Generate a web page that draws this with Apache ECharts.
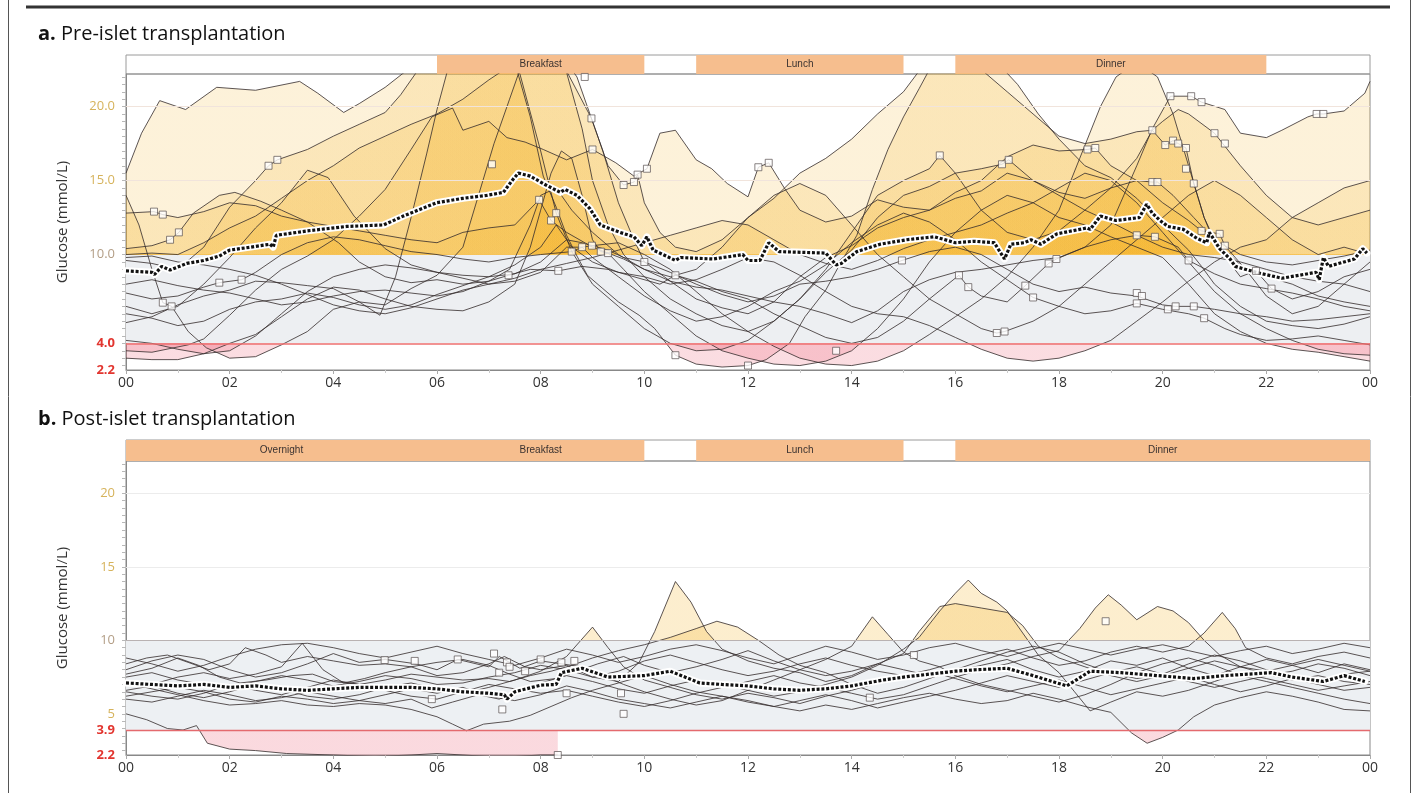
<!DOCTYPE html>
<html><head><meta charset="utf-8">
<script src="https://cdn.jsdelivr.net/npm/echarts@6/dist/echarts.min.js"></script>
<style>html,body{margin:0;padding:0;background:#fff}#c{width:1417px;height:793px}</style>
</head><body><div id="c"></div>
<script>
// ---------- tick labels ----------
const xTickLabels = ['00','02','04','06','08','10','12','14','16','18','20','22','00'];
const yTicksA = [2.2, 4, 10, 15, 20];
const yTickLabelsA = ['2.2','4.0','10.0','15.0','20.0'];
const yTicksB = [2.2, 3.9, 5, 10, 15, 20];
const yTickLabelsB = ['2.2','3.9','5','10','15','20'];
const yMinorTicks = [2.5,3,3.5,4,4.5,5,5.5,6,6.5,7,7.5,8,8.5,9,9.5,10,10.5,11,11.5,12,12.5,13,13.5,14,14.5,15,15.5,16,16.5,17,17.5,18,18.5,19,19.5,20,20.5,21,21.5,22];

// ---------- meal periods [start h, end h, name] ----------
const mealsA = [[6,10,'Breakfast'],[11,15,'Lunch'],[16,22,'Dinner']];
const mealsB = [[0,6,'Overnight'],[6,10,'Breakfast'],[11,15,'Lunch'],[16,24,'Dinner']];

// ---------- a. Pre-islet transplantation: daily traces [hour, mmol/L] ----------
const preTrace01 = [[0,15.5],[0.3,18.2],[0.65,20.4],[1.15,19.8],[1.75,21.3],[2.5,21.1],[3.35,21.7],[3.7,20.9],[4.2,19.6],[4.5,20.2],[5,21.3],[5.4,22.4],[6,23.2],[7,23.5],[8,23],[8.5,22.4],[8.98,19.2],[9.2,17],[9.5,13.5],[9.8,11],[10,9.5],[10.5,8.2],[11,7.8],[11.5,7.6],[12,7.2],[12.5,6.8],[13,6.5],[13.5,6],[14,5.4],[14.5,6.2],[15,7.5],[15.5,8.3],[16,8.8],[16.5,9],[17,9.3],[17.5,9.6],[18,9.8],[18.5,10.5],[19,12],[19.5,16],[19.8,18.5],[20.15,20.7],[20.55,20.7],[20.75,20.3],[21.2,19.8],[21.5,18.2],[22,17.9],[22.3,18.4],[22.8,19.3],[22.97,19.5],[23.1,19.5],[23.5,19.7],[23.9,20.9],[24,21.7]];
const preTrace02 = [[0,9.6],[0.5,9.4],[1,9.0],[1.5,10.5],[2,13.2],[2.5,15.0],[2.75,16.0],[2.92,16.4],[3.5,17.1],[4,18.0],[4.5,18.8],[5,19.6],[5.3,20.8],[5.6,22.3],[6.5,23.5],[7.5,23],[7.8,19.3],[8.05,15.3],[8.3,13.2],[8.5,11.3],[8.7,9.9],[8.9,8.6],[9.2,7.7],[9.5,6.8],[9.9,5.9],[10.2,5.0],[10.6,3.2],[11,2.6],[11.5,2.4],[12,2.5],[12.35,2.9],[12.8,4.0],[13.1,5.8],[13.5,7.6],[13.75,9.2],[14.1,11.3],[14.4,14.4],[14.7,17.1],[15,19.3],[15.3,21.2],[15.5,22.5],[16,23.5],[16.8,23],[17.2,21.5],[17.6,19.5],[18,17.8],[18.5,16.0],[19,15.2],[19.5,13.8],[20,12.0],[20.5,10.3],[20.75,9.2],[21,8.0],[21.5,6.5],[22,5.5],[22.5,5.2],[23,5.0],[23.5,5.3],[24,5.8]];
const preTrace03 = [[0,12.8],[0.54,12.9],[0.71,12.7],[1,12.5],[1.5,12.9],[2,13.5],[2.5,13.3],[3,12.6],[3.5,12.2],[4,11.9],[4.5,11.6],[5,11.3],[5.5,11.0],[6,10.8],[6.5,11.5],[7,11.8],[7.5,12.0],[7.97,13.7],[8.2,12.3],[8.5,11.5],[9,10.5],[9.3,10.1],[9.6,9.7],[10,9.0],[10.5,8.2],[11,7.0],[11.5,6.4],[12,6.0],[12.5,6.8],[13,8.5],[13.5,9.8],[14,10.6],[14.5,11.8],[15,12.5],[15.5,13.0],[16,13.8],[16.5,14.3],[17,15.5],[17.5,15.0],[18,14.2],[18.5,13.8],[19,14.5],[19.5,15.0],[19.8,14.9],[19.9,14.9],[20.2,14.0],[20.6,12.5],[21,11.0],[21.5,10.0],[22,9.5],[22.5,9.3],[23,9.6],[23.5,9.9],[24,10.3]];
const preTrace04 = [[0,10.4],[0.5,10.6],[0.85,11.0],[1.02,11.5],[1.3,12.8],[1.8,14.0],[2.1,14.2],[2.6,13.6],[3,13.0],[3.5,12.2],[4.1,10.8],[4.5,9.5],[5,8.5],[5.5,8.1],[6,8.3],[6.5,8.0],[7,8.2],[7.38,8.6],[7.8,9.0],[8.34,8.9],[8.8,9.2],[9.3,9.0],[9.8,8.5],[10.3,8.0],[10.6,8.6],[11,8.2],[11.5,7.5],[12,7.0],[12.5,6.0],[13,5.2],[13.5,4.4],[14,4.0],[14.5,4.4],[15,5.5],[15.5,7.0],[16.07,8.6],[16.25,7.8],[16.5,7.2],[17,6.8],[17.35,7.9],[17.8,9.4],[17.95,9.7],[18.5,10.5],[19,11.0],[19.5,11.3],[19.85,11.2],[20.3,10.5],[20.5,9.6],[21,8.7],[21.5,8.0],[22,7.7],[22.5,7.4],[23,7.0],[23.5,6.5],[24,6.2]];
const preTrace05 = [[0,14.0],[0.25,12.0],[0.5,9.0],[0.71,6.75],[0.88,6.5],[1.2,4.8],[1.55,3.7],[2,3.0],[2.5,3.1],[3,3.9],[3.5,4.8],[4,6.3],[4.5,6.8],[5,6.6],[5.5,7.7],[6,8.6],[6.5,10.5],[6.8,14.0],[7.1,17.5],[7.4,20.5],[7.6,22.5],[8.2,23],[8.5,22.3],[8.8,18.5],[9.0,15.0],[9.3,12.0],[9.6,10.0],[10,8.5],[10.5,7.0],[11,6.0],[11.5,5.2],[12,4.8],[12.5,5.5],[13,7.0],[13.5,8.8],[14,10.3],[14.5,12.5],[15,14.0],[15.5,14.6],[16,15.5],[16.5,15.8],[16.9,16.1],[17.03,16.4],[17.5,15.0],[18,14.0],[18.5,13.0],[19,12.2],[19.5,11.3],[20,10.5],[20.5,10.0],[21,9.8],[21.5,9.5],[22,9.0],[22.5,8.5],[23,8.2],[23.5,8.0],[24,7.5]];
const preTrace06 = [[0,3.5],[0.5,3.4],[1.2,3.9],[1.5,4.3],[2,5.9],[2.5,7.6],[3,9.0],[3.5,9.9],[4,11.0],[4.5,12.6],[5,14.4],[5.5,17.1],[5.9,19.3],[6.3,19.9],[6.5,18.4],[7,19.0],[7.35,17.9],[7.7,17.6],[8.05,17.1],[8.5,16.4],[9.0,17.1],[9.45,16.2],[9.8,15.3],[10.05,15.8],[10.3,18.2],[10.6,18.4],[11,16.4],[11.3,15.8],[11.6,14.8],[12,13.9],[12.2,15.9],[12.4,16.2],[12.7,14.5],[13,13.0],[13.5,12.2],[14,12.6],[14.5,13.7],[15,13.2],[15.5,13.0],[16,14.2],[16.5,15.0],[17,16.6],[17.5,17.4],[18,17.0],[18.55,17.1],[18.7,17.2],[19,16.0],[19.5,15.0],[20,13.5],[20.5,12.3],[20.75,11.6],[21.1,11.4],[21.2,10.6],[21.6,9.0],[22,7.2],[22.5,6.0],[23,6.5],[23.5,8.0],[24,9.5]];
const preTrace07 = [[0,3.0],[0.5,2.9],[1,2.9],[1.5,3.3],[2,4.0],[2.5,4.6],[3,5.8],[3.5,7.0],[4,7.8],[4.5,7.6],[5,7.0],[5.5,6.5],[6,6.3],[6.5,6.2],[7,6.8],[7.5,8.0],[7.8,10.5],[8,13.0],[8.2,15.5],[8.4,17.0],[8.6,16.5],[8.8,14.0],[9.0,11.0],[9.16,10.2],[9.3,10.1],[9.6,9.0],[10,7.5],[10.5,6.0],[11,4.5],[11.5,3.5],[12,3.0],[12.5,2.6],[13,2.5],[13.5,2.8],[14,3.5],[14.5,5.0],[15,7.0],[15.5,9.5],[16,11.5],[16.5,13.0],[17,14.0],[17.5,13.5],[18,12.5],[18.5,12.0],[19,11.2],[19.5,10.5],[20,9.8],[20.5,8.0],[21,6.0],[21.5,4.8],[22,4.0],[22.5,3.6],[23,3.4],[23.5,3.1],[24,2.8]];
const preTrace08 = [[0,7.4],[0.5,7.0],[1,7.2],[1.5,7.8],[1.8,8.1],[2.23,8.3],[2.5,8.8],[3,10.0],[3.5,10.8],[4,11.2],[4.5,11.0],[5,10.6],[5.5,10.2],[6,10.0],[6.5,9.7],[7,9.5],[7.5,9.8],[8,10.0],[8.6,10.2],[8.8,10.5],[9,10.6],[9.3,10.3],[9.6,9.8],[10,9.5],[10.5,8.8],[11,8.0],[11.5,7.3],[12,6.8],[12.5,7.2],[13,8.0],[13.5,8.2],[14,8.5],[14.5,9.0],[14.97,9.6],[15.5,10.2],[16,10.5],[16.5,10.0],[17,9.0],[17.5,8.0],[18,7.5],[18.5,7.8],[19,7.4],[19.5,7.2],[20,6.6],[20.25,6.5],[20.6,6.5],[21,6.3],[21.5,6.0],[22,5.8],[22.5,5.5],[23,5.6],[23.5,5.8],[24,6.0]];
const preTrace09 = [[0,6.5],[0.5,6.0],[1,6.5],[1.5,8.0],[2,9.8],[2.5,11.8],[3,13.5],[3.5,15.7],[3.9,15.2],[4.4,12.6],[5,10.4],[5.5,9.3],[6,8.8],[6.5,8.4],[7,8.0],[7.5,8.2],[8,8.8],[8.5,10.5],[8.8,10.5],[9,9.8],[9.5,8.5],[10,7.2],[10.5,6.2],[11,5.5],[11.5,5.8],[12,6.5],[12.5,7.5],[13,8.2],[13.5,9.3],[14,10.8],[14.5,12.0],[15,12.8],[15.5,12.2],[16,11.0],[16.5,9.5],[17,8.3],[17.5,7.1],[18,6.5],[18.5,6.0],[19,6.2],[19.5,6.7],[20,6.3],[20.5,6.0],[20.8,5.7],[21.2,5.0],[21.5,4.6],[22,4.2],[22.5,4.3],[23,4.5],[23.5,4.2],[24,3.9]];
const preTrace10 = [[0,5.4],[0.5,5.8],[1,6.6],[1.5,7.2],[2,7.6],[2.5,8.2],[3,8.1],[3.5,7.9],[4,7.7],[4.5,6.8],[4.9,5.9],[5.2,8.5],[5.5,12.5],[5.8,16.8],[6,19.8],[6.2,22.4],[7,23.5],[7.5,23],[7.6,22.2],[8.0,17.0],[8.3,12.8],[8.6,10.2],[9,8.0],[9.5,6.5],[10,5.0],[10.5,4.0],[11,3.5],[11.5,3.6],[12,4.2],[12.5,5.5],[13,7.0],[13.5,9.0],[14,11.5],[14.5,14.0],[15,15.0],[15.5,15.8],[15.7,16.7],[16,15.5],[16.5,13.0],[17,11.5],[17.5,11.0],[18,11.6],[18.5,13.0],[19,14.5],[19.5,16.5],[19.8,18.4],[20.05,17.4],[20.2,17.7],[20.3,17.5],[20.45,17.2],[20.6,14.8],[20.8,12.5],[21,10.8],[21.5,8.5],[21.8,8.9],[22.1,7.7],[22.5,7.0],[23,7.5],[23.5,8.5],[24,9.0]];
const preTrace11 = [[0,8.0],[0.5,8.3],[1,7.9],[1.5,7.6],[2,7.4],[2.5,7.0],[3,6.6],[3.5,6.8],[4,7.2],[4.5,7.5],[5,7.6],[5.5,7.4],[6,7.2],[6.5,7.5],[7,8.2],[7.4,9.0],[7.8,12.0],[8.0,14.0],[8.3,14.5],[8.6,13.0],[9,11.5],[9.5,10.0],[10,9.0],[10.5,8.5],[11,9.0],[11.5,10.5],[12,12.5],[12.5,14.0],[13,14.8],[13.5,14.0],[14,12.0],[14.5,10.0],[15,8.5],[15.5,7.0],[16,6.0],[16.5,5.0],[16.8,4.7],[16.95,4.8],[17.5,5.5],[18,6.5],[18.5,8.0],[19,9.5],[19.5,11.0],[20,12.5],[20.5,14.0],[21,15.0],[21.5,14.0],[22,12.5],[22.5,11.0],[23,10.0],[23.5,10.5],[24,10.0]];
const preTrace12 = [[0,10.0],[0.5,10.1],[1,10.0],[1.5,10.8],[2,11.8],[2.5,12.6],[3,13.8],[3.5,15.0],[4,16.0],[4.5,17.2],[5,18.0],[5.5,18.8],[6,19.5],[6.5,20.5],[7,21.8],[7.3,22.5],[8,23.5],[8.5,23],[8.7,22],[9.0,19.0],[9.3,16.0],[9.6,14.7],[9.8,14.9],[9.87,15.4],[10,13.5],[10.3,11.5],[10.6,10.5],[11,10.2],[11.5,11.0],[12,12.5],[12.5,13.8],[13,15.5],[13.5,16.5],[14,17.8],[14.5,19.5],[15,21.0],[15.3,22.4],[16,23],[16.5,22.5],[17,21.0],[17.5,19.5],[18,18.0],[18.5,17.5],[19,17.8],[19.5,18.3],[19.8,18.4],[20,19.0],[20.3,19.8],[20.5,19.5],[21,18.2],[21.5,16.0],[22,14.0],[22.5,12.5],[23,12.0],[23.5,12.5],[24,13.0]];
const preTrace13 = [[0,4.2],[0.5,4.0],[1,3.6],[1.5,3.3],[2,3.5],[2.5,4.5],[3,6.0],[3.5,7.5],[4,8.5],[4.5,9.0],[5,9.3],[5.5,9.1],[6,8.8],[6.5,8.6],[7,8.5],[7.5,8.7],[8,9.5],[8.5,11.0],[8.8,10.8],[9.0,10.6],[9.5,10.8],[10,10.0],[10.5,9.0],[11,7.5],[11.5,6.0],[12,4.8],[12.5,3.8],[13,3.0],[13.5,2.6],[14,2.5],[14.5,2.8],[15,3.5],[15.5,4.6],[16,5.8],[16.5,7.0],[17,8.5],[17.5,10.5],[18,13.0],[18.4,16.5],[18.8,20.0],[19.1,22.0],[19.5,23],[19.9,22.0],[20.2,19.5],[20.5,16.0],[20.8,12.5],[21,11.0],[21.5,9.3],[22,8.5],[22.5,8.0],[23,7.2],[23.5,6.8],[24,6.5]];
const preTrace14 = [[0,6.0],[0.5,5.7],[1,5.2],[1.5,5.5],[2,6.3],[2.5,6.8],[3,7.0],[3.5,7.4],[4,7.1],[4.5,6.6],[5,6.3],[5.5,6.6],[6,7.3],[6.5,7.9],[7,8.5],[7.5,9.3],[8,10.5],[8.3,12.0],[8.6,10.5],[9,9.5],[9.5,8.8],[10,8.5],[10.5,8.0],[11,8.3],[11.5,9.0],[12,9.8],[12.5,9.5],[13,8.6],[13.5,7.5],[14,6.5],[14.5,6.0],[15,5.8],[15.5,5.2],[16,4.4],[16.5,3.6],[17,3.0],[17.5,2.8],[18,3.0],[18.5,3.5],[19,4.2],[19.5,5.5],[20,6.8],[20.5,8.2],[21,9.5],[21.5,10.5],[22,11.0],[22.5,12.5],[23,13.5],[23.5,14.5],[24,15.0]];
const preTrace15 = [[0,9.8],[0.5,9.9],[1,9.5],[1.5,9.3],[2,9.0],[2.5,8.6],[3,8.0],[3.5,7.3],[4,6.6],[4.5,6.2],[5,6.0],[5.5,6.4],[6,7.0],[6.5,7.6],[7,8.0],[7.5,8.4],[8,9.0],[8.5,9.4],[9,9.8],[9.5,10.3],[10,10.8],[10.5,11.3],[11,11.8],[11.5,12.3],[12,12.0],[12.5,11.0],[13,10.0],[13.5,9.4],[14,9.0],[14.5,9.6],[15,10.4],[15.5,11.0],[16,11.5],[16.5,12.0],[17,12.8],[17.5,13.5],[18,14.5],[18.5,15.5],[19,15.0],[19.5,13.5],[20,11.5],[20.5,9.5],[21,7.5],[21.5,6.0],[22,5.0],[22.5,4.2],[23,3.6],[23.5,3.3],[24,3.2]];
const preTraces = [preTrace01,preTrace02,preTrace03,preTrace04,preTrace05,preTrace06,preTrace07,preTrace08,preTrace09,preTrace10,preTrace11,preTrace12,preTrace13,preTrace14,preTrace15];

const preMedian = [[0,8.9],[0.5,8.8],[0.55,8.65],[0.69,9.2],[0.85,8.95],[1.17,9.4],[1.5,9.6],[1.8,9.9],[2.0,10.3],[2.4,10.5],[2.78,10.7],[2.84,10.5],[2.9,11.3],[3.5,11.6],[4.26,11.9],[4.97,12.0],[5.35,12.6],[5.99,13.5],[6.5,13.8],[6.96,14.0],[7.28,14.2],[7.47,15.1],[7.57,15.5],[7.8,15.3],[8.1,14.7],[8.38,14.2],[8.47,14.4],[8.7,14.0],[8.95,13.1],[9.15,12.0],[9.53,11.5],[9.8,11.2],[9.95,10.6],[10.05,11.2],[10.17,10.3],[10.36,10.0],[10.6,9.6],[10.7,9.8],[11.33,9.7],[11.9,10.0],[12,9.6],[12.23,9.6],[12.4,10.8],[12.6,10.2],[13.5,10.1],[13.7,9.3],[13.8,9.4],[14.1,10.2],[14.55,10.7],[15.06,11.0],[15.6,11.2],[16,10.8],[16.36,10.9],[16.75,10.8],[16.95,9.7],[17.07,10.7],[17.33,10.8],[17.46,11.0],[17.65,10.7],[17.96,11.4],[18.54,11.8],[18.6,11.7],[18.8,12.6],[19.1,12.3],[19.55,12.5],[19.69,13.4],[19.8,12.8],[19.95,12.3],[20.1,11.9],[20.4,11.7],[20.66,11.1],[20.85,10.8],[20.9,11.5],[21.1,10.4],[21.3,9.7],[21.4,9.2],[21.8,8.8],[22.3,8.4],[22.96,8.8],[23.02,8.3],[23.1,9.8],[23.2,9.2],[23.7,9.7],[23.86,10.4],[23.94,10.1]];

const preMarkers = [[0.54,12.9],[0.71,12.7],[0.85,11.0],[1.02,11.5],[0.71,6.75],[0.88,6.5],[1.8,8.1],[2.23,8.3],[2.75,16.0],[2.92,16.4],[7.06,16.1],[7.97,13.7],[8.2,12.3],[8.3,12.8],[8.6,10.2],[8.8,10.5],[8.99,10.6],[9.16,10.2],[9.3,10.1],[8.98,19.2],[9.0,17.1],[8.85,22.0],[9.6,14.7],[9.8,14.9],[9.87,15.4],[10.05,15.8],[10.0,9.5],[10.6,8.6],[10.6,3.2],[12.0,2.5],[7.38,8.6],[8.34,8.9],[12.2,15.9],[12.4,16.2],[13.7,3.5],[14.97,9.6],[15.7,16.7],[16.07,8.6],[16.25,7.8],[16.9,16.1],[17.03,16.4],[16.8,4.7],[16.95,4.8],[17.35,7.9],[17.5,7.1],[17.8,9.4],[17.95,9.7],[20.15,20.7],[20.55,20.7],[20.75,20.3],[22.97,19.5],[23.1,19.5],[19.8,18.4],[20.05,17.4],[20.2,17.7],[20.3,17.5],[20.45,17.2],[21.0,18.2],[21.2,17.5],[18.55,17.1],[18.7,17.2],[20.45,15.8],[20.6,14.8],[19.8,14.9],[19.9,14.9],[20.75,11.6],[21.1,11.4],[21.2,10.6],[19.5,11.3],[19.85,11.2],[20.5,9.6],[19.5,7.4],[19.6,7.2],[19.5,6.7],[20.1,6.3],[20.25,6.5],[20.6,6.5],[20.8,5.7],[21.8,8.9],[22.1,7.7]];

// ---------- b. Post-islet transplantation ----------
const postTrace01 = [[0,5.0],[0.4,4.6],[0.8,4.0],[1.1,3.9],[1.36,4.2],[1.57,3.0],[2,2.6],[2.5,2.5],[3.1,2.3],[4,2.2],[4.8,2.1],[5.5,2.2],[6,2.3],[6.5,2.2],[7,2.1],[7.5,2.1],[8,2.2],[8.33,2.2]];
const postTrace02 = [[0,8.4],[0.4,8.8],[0.8,9.0],[1.2,8.5],[1.6,8.0],[2,8.4],[2.3,9.5],[2.7,9.0],[3,8.5],[3.5,8.9],[4,8.6],[4.5,8.3],[5,8.4],[5.5,8.2],[6,7.6],[6.5,7.8],[7,8.4],[7.3,8.9],[7.7,8.2],[8,8.0],[8.5,8.3],[9,7.5],[9.5,7.2],[9.9,8.5],[10.2,10.6],[10.6,14.0],[10.9,12.6],[11.2,10.6],[11.5,9.4],[12,8.6],[12.5,8.1],[13,7.8],[13.5,7.2],[14,7.6],[14.5,8.4],[15,8.0],[15.5,7.6],[16,7.9],[16.5,8.3],[17,8.7],[17.5,8.0],[18,7.5],[18.5,7.9],[19,8.6],[19.5,8.3],[20,8.8],[20.5,8.1],[21,7.6],[21.5,8.2],[22,8.7],[22.5,8.3],[23,7.8],[23.5,8.4],[24,8.0]];
const postTrace03 = [[0,7.7],[0.5,8.1],[1,8.8],[1.4,8.3],[1.8,7.5],[2.2,7.1],[2.7,7.3],[3.2,7.6],[3.6,7.7],[4,7.2],[4.5,7.0],[5,7.3],[5.5,7.7],[6,7.5],[6.5,7.3],[7,7.4],[7.4,7.2],[7.8,7.6],[8.2,7.9],[8.6,8.3],[9,8.8],[9.5,9.3],[10,9.7],[10.5,10.2],[11,10.8],[11.4,11.3],[11.8,10.9],[12.2,10.0],[12.6,9.0],[13,8.3],[13.5,7.8],[14,7.0],[14.5,6.4],[15,6.8],[15.5,7.4],[16,8.0],[16.5,8.6],[17,9.2],[17.5,9.6],[18,9.2],[18.5,8.4],[19,7.8],[19.5,7.4],[20,7.7],[20.5,8.4],[21,9.0],[21.5,8.6],[22,8.0],[22.5,7.6],[23,7.3],[23.5,7.7],[24,7.9]];
const postTrace04 = [[0,6.6],[0.5,6.9],[1,6.4],[1.5,6.1],[2,6.5],[2.5,7.0],[3,6.7],[3.5,6.2],[4,6.0],[4.5,6.3],[5,6.8],[5.5,7.1],[6,6.7],[6.5,6.4],[7,6.8],[7.5,7.3],[8,7.9],[8.5,8.9],[9.0,10.9],[9.3,9.5],[9.6,8.2],[10,7.3],[10.5,6.8],[11,6.3],[11.5,6.0],[12,6.4],[12.5,6.1],[13,5.7],[13.5,6.2],[14,6.6],[14.5,7.1],[15,7.5],[15.5,7.9],[16,7.4],[16.5,6.9],[17,6.5],[17.5,6.9],[18,7.3],[18.5,6.8],[19,6.3],[19.5,6.7],[20,7.1],[20.5,7.5],[21,7.0],[21.5,6.5],[22,6.9],[22.5,7.4],[23,7.0],[23.5,6.6],[24,6.8]];
const postTrace05 = [[0,8.0],[0.5,8.6],[1,9.0],[1.5,8.7],[2,8.0],[2.5,7.5],[3,7.8],[3.5,8.4],[4,9.1],[4.5,8.5],[5,8.7],[5.6,8.4],[6,8.0],[6.4,8.7],[7,8.2],[7.2,8.9],[7.6,8.1],[8,8.6],[8.4,8.4],[8.8,8.2],[9.2,7.6],[9.6,7.0],[10,6.5],[10.5,6.0],[11,5.6],[11.5,5.9],[12,6.6],[12.5,7.3],[13,8.0],[13.5,8.7],[14,9.6],[14.4,11.6],[14.7,10.4],[15,9.2],[15.3,8.6],[15.7,8.2],[16,7.6],[16.5,7.0],[17,6.6],[17.5,6.2],[18,5.8],[18.5,6.3],[19,7.0],[19.5,7.8],[20,8.4],[20.5,8.8],[21,8.3],[21.5,7.6],[22,7.2],[22.5,6.8],[23,6.4],[23.5,6.0],[24,5.7]];
const postTrace06 = [[0,6.0],[0.5,5.8],[1,6.2],[1.5,6.6],[2,6.3],[2.5,5.9],[3,6.1],[3.5,6.5],[4,6.2],[4.5,5.9],[5,5.7],[5.5,6.0],[5.9,5.4],[6.3,5.8],[6.8,6.3],[7.2,6.0],[7.6,6.6],[8,7.1],[8.5,7.6],[9,7.2],[9.5,6.7],[10,6.4],[10.5,6.9],[11,7.3],[11.5,7.0],[12,6.6],[12.5,6.2],[13,6.5],[13.5,7.0],[14,7.5],[14.5,8.3],[15,9.4],[15.3,10.2],[15.7,12.0],[16,13.2],[16.25,14.1],[16.5,13.2],[16.8,12.6],[17,12.0],[17.3,10.5],[17.6,9.0],[18,7.8],[18.3,6.5],[18.6,5.2],[19,5.8],[19.5,6.5],[20,6.2],[20.5,6.6],[21,7.2],[21.5,7.8],[22,7.4],[22.5,7.0],[23,6.6],[23.5,6.9],[24,7.2]];
const postTrace07 = [[0,7.2],[0.5,7.0],[1,7.5],[1.5,7.8],[2,7.4],[2.5,7.7],[3,8.2],[3.4,9.8],[3.8,8.0],[4.2,7.1],[4.6,7.4],[5,7.8],[5.5,8.2],[6,8.5],[6.5,8.7],[7,8.3],[7.4,7.7],[7.8,7.2],[8.3,7.4],[8.7,7.9],[9.1,8.4],[9.6,8.9],[10,8.3],[10.5,7.8],[11,8.2],[11.5,8.7],[12,9.3],[12.5,8.6],[13,8.0],[13.5,7.6],[14,7.9],[14.5,8.4],[15,9.1],[15.3,10.6],[15.7,12.3],[16,12.5],[16.5,12.2],[17,11.9],[17.3,11.0],[17.6,9.6],[18,8.8],[18.5,8.2],[19,7.6],[19.5,7.2],[20,7.6],[20.5,8.1],[21,8.6],[21.5,8.2],[22,7.9],[22.5,8.3],[23,8.7],[23.5,8.3],[24,7.9]];
const postTrace08 = [[0,6.5],[0.5,6.2],[1,6.0],[1.5,6.4],[2,7.0],[2.5,6.6],[3,6.3],[3.5,6.8],[4,7.3],[4.5,7.0],[5,6.6],[5.5,6.2],[6,6.0],[6.5,6.5],[7,7.0],[7.5,6.7],[8,6.4],[8.5,6.6],[9,6.2],[9.5,5.8],[10,5.5],[10.5,5.9],[11,6.4],[11.5,6.8],[12,7.2],[12.5,7.6],[13,7.1],[13.5,6.8],[14,6.4],[14.5,6.0],[15,6.3],[15.5,6.9],[16,7.5],[16.5,8.0],[17,8.4],[17.5,8.9],[18,9.3],[18.4,10.8],[18.7,12.2],[18.95,13.1],[19.2,12.4],[19.5,11.4],[19.9,12.3],[20.2,12.0],[20.5,11.2],[20.8,10.0],[21.1,9.0],[21.5,8.2],[22,7.7],[22.5,7.3],[23,7.6],[23.5,7.2],[24,7.0]];
const postTrace09 = [[0,7.5],[0.5,7.8],[1,7.3],[1.5,7.0],[2,6.8],[2.5,7.2],[3,7.6],[3.5,7.3],[4,6.9],[4.5,7.2],[5,7.6],[5.5,7.4],[6,7.0],[6.5,7.1],[7,7.5],[7.5,7.8],[8,8.3],[8.5,8.0],[9,7.5],[9.5,7.9],[10,8.6],[10.5,9.0],[11,8.5],[11.5,8.0],[12,7.6],[12.5,7.9],[13,8.4],[13.5,8.8],[14,8.3],[14.5,7.9],[15,7.6],[15.5,8.0],[16,8.5],[16.5,9.0],[17,9.4],[17.5,8.8],[18,8.3],[18.5,8.6],[19,9.2],[19.5,9.6],[20,9.2],[20.5,9.6],[20.8,10.5],[21.15,11.9],[21.4,10.8],[21.6,9.5],[22,8.8],[22.5,8.4],[23,8.9],[23.5,9.2],[24,8.8]];
const postTrace10 = [[0,6.2],[0.5,6.5],[1,6.8],[1.5,6.5],[2,6.0],[2.5,5.8],[3,6.2],[3.5,6.0],[4,5.7],[4.5,5.9],[5,6.3],[5.5,6.7],[6,6.4],[6.5,6.8],[7,6.2],[7.5,5.9],[8,6.3],[8.5,6.9],[9,6.5],[9.5,6.0],[10,5.7],[10.5,5.4],[11,5.8],[11.5,6.2],[12,5.9],[12.5,5.5],[13,5.2],[13.5,5.6],[14,5.3],[14.5,5.7],[15,6.1],[15.5,6.4],[16,6.0],[16.5,5.7],[17,5.9],[17.5,6.4],[18,6.0],[18.5,5.5],[19,5.1],[19.4,3.7],[19.7,3.0],[20,3.4],[20.3,3.9],[20.6,4.8],[21,5.6],[21.5,6.1],[22,6.5],[22.5,6.2],[23,5.8],[23.5,5.3],[24,5.2]];
const postTrace11 = [[0,7.1],[0.5,6.7],[1,6.3],[1.5,5.9],[2,5.6],[2.5,5.7],[3,5.9],[3.5,5.6],[4,5.5],[4.5,5.7],[5,5.6],[5.5,5.3],[6,4.8],[6.3,4.3],[6.57,3.85],[6.9,4.3],[7.4,4.5],[7.8,4.9],[8.2,5.5],[8.6,6.1],[9,6.6],[9.5,7.1],[10,7.6],[10.5,7.0],[11,6.5],[11.5,6.2],[12,5.8],[12.5,5.5],[13,5.9],[13.5,6.3],[14,5.9],[14.5,5.4],[15,5.8],[15.5,6.2],[16,6.6],[16.5,7.1],[17,7.6],[17.5,7.2],[18,6.8],[18.5,7.3],[19,7.8],[19.5,8.2],[20,7.7],[20.5,7.2],[21,6.8],[21.5,7.2],[22,7.6],[22.5,7.9],[23,8.4],[23.5,8.1],[24,7.6]];
const postTrace12 = [[0,8.8],[0.5,8.4],[1,7.9],[1.5,8.3],[2,8.9],[2.5,9.4],[3,9.7],[3.5,9.8],[4,9.5],[4.5,9.1],[5,8.8],[5.5,9.2],[6,9.6],[6.5,9.1],[7,8.7],[7.5,8.3],[8,8.8],[8.5,9.4],[9,9.0],[9.5,8.5],[10,8.9],[10.5,9.4],[11,9.7],[11.5,9.3],[12,8.8],[12.5,8.4],[13,9.0],[13.5,9.6],[14,9.2],[14.5,8.7],[15,9.0],[15.5,9.5],[16,9.8],[16.5,9.3],[17,8.9],[17.5,9.4],[18,9.8],[18.5,9.4],[19,9.0],[19.5,9.4],[20,9.7],[20.5,9.3],[21,8.9],[21.5,9.3],[22,9.6],[22.5,9.1],[23,9.4],[23.5,9.8],[24,9.5]];
const postTraces = [postTrace01,postTrace02,postTrace03,postTrace04,postTrace05,postTrace06,postTrace07,postTrace08,postTrace09,postTrace10,postTrace11,postTrace12];

const postMedian = [[0,7.1],[0.5,7.0],[1,6.9],[1.5,7.0],[2,6.8],[2.5,6.9],[3,6.7],[3.5,6.6],[4,6.7],[4.5,6.8],[5,6.8],[5.5,6.8],[6,6.7],[6.5,6.5],[7,6.4],[7.3,6.3],[7.35,6.0],[7.5,6.5],[8,6.95],[8.3,7.0],[8.4,7.8],[8.8,8.1],[9.3,7.5],[10,7.6],[10.5,7.9],[11.07,7.1],[11.5,7.0],[12,6.9],[12.5,6.7],[13,6.6],[13.5,6.7],[14,6.9],[14.6,7.3],[15,7.5],[15.5,7.7],[16,7.9],[16.4,8.0],[17,8.1],[17.5,7.6],[18.15,6.9],[18.6,7.9],[19.2,7.8],[19.9,7.6],[20.6,7.4],[21.2,7.6],[22.1,7.8],[22.5,7.5],[23.1,7.2],[23.5,7.6],[23.9,7.2]];

const postMarkers = [[4.99,8.66],[5.57,8.6],[6.4,8.7],[7.1,9.1],[7.35,8.5],[7.4,8.2],[7.2,7.8],[7.7,7.9],[8.0,8.7],[8.4,8.5],[8.65,8.6],[5.9,6.0],[7.26,5.3],[8.5,6.4],[9.55,6.4],[9.6,5.0],[8.33,2.2],[15.2,9.0],[14.35,6.1],[18.9,11.3]];

// ---------- chart ----------
const chart = echarts.init(document.getElementById('c'), null, {renderer:'canvas'});
const SANS = "'Open Sans','Noto Sans',sans-serif";

function plotGrid(top, h){ return {left:126, top:top, width:1244, height:h, show:true, borderColor:'#888', borderWidth:1, backgroundColor:'transparent'}; }
function mealGrid(top, h){ return {left:126, top:top, width:1244, height:h, show:true, borderColor:'#9a9a9a', borderWidth:1, backgroundColor:'transparent'}; }

function xAxisMain(gi){
  return {type:'value', gridIndex:gi, min:0, max:24, interval:2,
    axisLine:{show:true, lineStyle:{color:'#888'}},
    axisTick:{show:true, length:4, lineStyle:{color:'#aaa'}},
    minorTick:{show:true, splitNumber:2, length:3, lineStyle:{color:'#ccc'}},
    splitLine:{show:false},
    axisLabel:{margin:6, fontSize:14, color:'#333', fontFamily:SANS,
      formatter:v=>xTickLabels[Math.round(v/2)]}};
}
function xAxisHidden(gi){ return {type:'value', gridIndex:gi, min:0, max:24, show:false}; }
function yAxisHidden(gi){ return {type:'value', gridIndex:gi, min:0, max:1, show:false}; }
function yAxisMain(gi, ticks, labels){
  return {type:'value', gridIndex:gi, min:2.2, max:22.2,
    name:'Glucose (mmol/L)', nameLocation:'middle', nameGap:56, nameRotate:90,
    nameTextStyle:{fontFamily:SANS, fontSize:15, color:'#333'},
    axisLine:{show:true, lineStyle:{color:'#888'}},
    axisTick:{show:true, length:4, customValues:yMinorTicks, lineStyle:{color:'#b8b8b8'}},
    splitLine:{show:false},
    axisLabel:{customValues:ticks, margin:11, fontSize:13, fontFamily:SANS,
      formatter:function(v){
        let i = ticks.findIndex(t=>Math.abs(t-v)<1e-6);
        const s = i>=0 ? labels[i] : '';
        if (v < 4.5) return '{r|'+s+'}';
        if (Math.abs(v-10)<1e-6) return '{t|'+s+'}';
        return '{g|'+s+'}';
      },
      rich:{r:{color:'#E2352F', fontSize:13, fontWeight:'bold', fontFamily:SANS},
            t:{color:'#B39E86', fontSize:13, fontFamily:SANS},
            g:{color:'#D6B35C', fontSize:13, fontFamily:SANS}}}};
}

function mealSeries(xi, meals){
  return {type:'custom', xAxisIndex:xi, yAxisIndex:xi, data:meals.map(m=>[m[0],m[1]]), silent:true, z:2,
    renderItem:function(params, api){
      const s = api.value(0), e = api.value(1);
      const p0 = api.coord([s,1]), p1 = api.coord([e,0]);
      const name = meals[params.dataIndex][2];
      return {type:'group', children:[
        {type:'rect', shape:{x:p0[0], y:p0[1], width:p1[0]-p0[0], height:p1[1]-p0[1]}, style:{fill:'#F6BE8E'}},
        {type:'text', style:{text:name, x:(p0[0]+p1[0])/2, y:(p0[1]+p1[1])/2, align:'center', verticalAlign:'middle',
          font:"10px 'Liberation Sans', Arial, sans-serif", fill:'#3a3230'}}
      ]};
    }};
}

const series = [];
const traceIdxA = [], traceIdxB = [];
// bands
series.push({type:'line', xAxisIndex:0, yAxisIndex:0, data:[], z:1, silent:true,
  markArea:{silent:true, itemStyle:{color:'#EDEFF2'}, data:[[{yAxis:4},{yAxis:10}]]}});
series.push({type:'line', xAxisIndex:2, yAxisIndex:2, data:[], z:1, silent:true,
  markArea:{silent:true, itemStyle:{color:'#EDF0F3'}, data:[[{yAxis:3.9},{yAxis:10}]]}});
// reference lines
series.push({type:'line', xAxisIndex:0, yAxisIndex:0, data:[], z:1, silent:true,
  markLine:{silent:true, symbol:'none', label:{show:false}, animation:false, data:[
    {yAxis:20, lineStyle:{color:'#F1E4DC', width:1, type:'solid'}},
    {yAxis:15, lineStyle:{color:'#F1E4DC', width:1, type:'solid'}}]}});
series.push({type:'line', xAxisIndex:2, yAxisIndex:2, data:[], z:1, silent:true,
  markLine:{silent:true, symbol:'none', label:{show:false}, animation:false, data:[
    {yAxis:20, lineStyle:{color:'#ECECEC', width:1, type:'solid'}},
    {yAxis:15, lineStyle:{color:'#ECECEC', width:1, type:'solid'}}]}});

function traceSeries(xi, data){
  return {type:'line', xAxisIndex:xi, yAxisIndex:xi, data:data, showSymbol:false, symbol:'none', silent:true, z:3,
    lineStyle:{color:'#352c2c', width:0.9, opacity:0.9},
    areaStyle:{origin:10, opacity:1}};
}
preTraces.forEach(t=>{ traceIdxA.push(series.length); series.push(traceSeries(0,t)); });
postTraces.forEach(t=>{ traceIdxB.push(series.length); series.push(traceSeries(2,t)); });

// threshold lines above fills
series.push({type:'line', xAxisIndex:0, yAxisIndex:0, data:[], z:4, silent:true,
  markLine:{silent:true, symbol:'none', label:{show:false}, animation:false, data:[
    {yAxis:4, lineStyle:{color:'#EE6F6F', width:1.5, type:'solid'}}]}});
series.push({type:'line', xAxisIndex:2, yAxisIndex:2, data:[], z:4, silent:true,
  markLine:{silent:true, symbol:'none', label:{show:false}, animation:false, data:[
    {yAxis:10, lineStyle:{color:'#B9B2B2', width:1, type:'solid'}},
    {yAxis:3.9, lineStyle:{color:'#E46A6E', width:1.3, type:'solid'}}]}});

// medians
[[0,preMedian],[2,postMedian]].forEach(([xi,d])=>{
  series.push({type:'line', xAxisIndex:xi, yAxisIndex:xi, data:d, showSymbol:false, symbol:'none', silent:true, z:5,
    lineStyle:{color:'#ffffff', width:7, cap:'round', join:'round'}});
  series.push({type:'line', xAxisIndex:xi, yAxisIndex:xi, data:d, showSymbol:false, symbol:'none', silent:true, z:6,
    lineStyle:{color:'#111', width:3.2, type:[3,1.8], cap:'butt'}});
});
// markers
[[0,preMarkers],[2,postMarkers]].forEach(([xi,d])=>{
  series.push({type:'scatter', xAxisIndex:xi, yAxisIndex:xi, data:d, symbol:'rect', symbolSize:7, silent:true, z:7,
    itemStyle:{color:'#ffffff', borderColor:'#5a5252', borderWidth:0.9}});
});
// meal bars
series.push(mealSeries(1, mealsA));
series.push(mealSeries(3, mealsB));

const option = {
  animation:false,
  backgroundColor:'#ffffff',
  title:[
    {text:'{b|a.} Pre-islet transplantation', left:33, top:19,
      textStyle:{fontFamily:SANS, fontSize:20, fontWeight:'normal', color:'#111',
        rich:{b:{fontFamily:SANS, fontSize:20, fontWeight:'bold', color:'#111'}}}},
    {text:'{b|b.} Post-islet transplantation', left:33, top:404,
      textStyle:{fontFamily:SANS, fontSize:20, fontWeight:'normal', color:'#111',
        rich:{b:{fontFamily:SANS, fontSize:20, fontWeight:'bold', color:'#111'}}}}
  ],
  grid:[plotGrid(74,296), mealGrid(55,19), plotGrid(461,294), mealGrid(440,21)],
  xAxis:[xAxisMain(0), xAxisHidden(1), xAxisMain(2), xAxisHidden(3)],
  yAxis:[yAxisMain(0,yTicksA,yTickLabelsA), yAxisHidden(1), yAxisMain(2,yTicksB,yTickLabelsB), yAxisHidden(3)],
  visualMap:[
    {type:'piecewise', show:false, dimension:1, seriesIndex:traceIdxA,
      pieces:[{lt:4, color:'rgba(236,98,120,0.22)'},{gte:4, lte:10, color:'rgba(255,255,255,0)'},{gt:10, color:'rgba(243,176,32,0.17)'}]},
    {type:'piecewise', show:false, dimension:1, seriesIndex:traceIdxB,
      pieces:[{lt:3.9, color:'rgba(236,98,120,0.24)'},{gte:3.9, lte:10, color:'rgba(255,255,255,0)'},{gt:10, color:'rgba(243,176,32,0.22)'}]}
  ],
  graphic:[
    {type:'line', silent:true, shape:{x1:26, y1:7, x2:1390, y2:7}, style:{stroke:'#333', lineWidth:3}},
    {type:'line', silent:true, shape:{x1:8.5, y1:0, x2:8.5, y2:793}, style:{stroke:'#555', lineWidth:1}},
    {type:'line', silent:true, shape:{x1:1410.5, y1:0, x2:1410.5, y2:793}, style:{stroke:'#555', lineWidth:1}}
  ],
  series:series
};
chart.setOption(option);
</script>
</body></html>
